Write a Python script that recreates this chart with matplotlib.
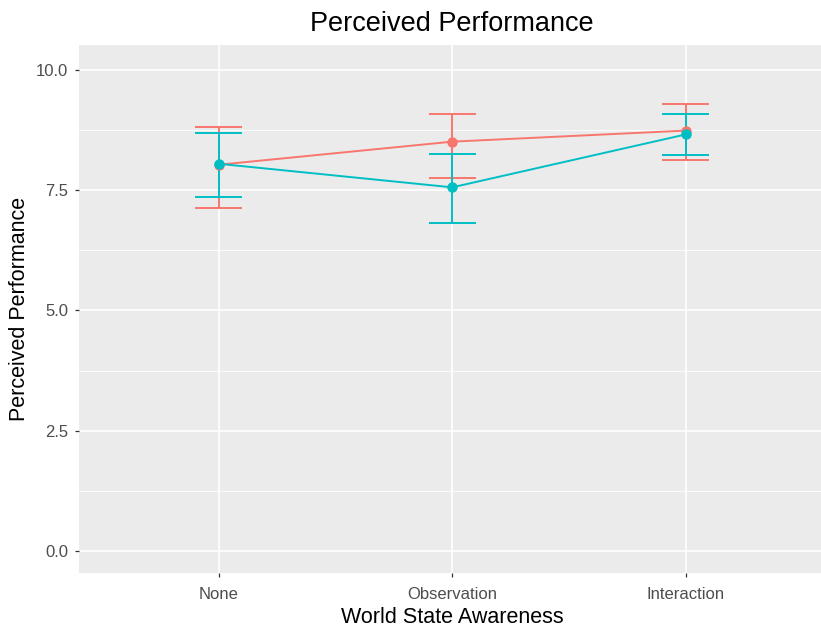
import matplotlib
matplotlib.use("Agg")
import matplotlib.pyplot as plt
from matplotlib.ticker import MultipleLocator

plt.rcParams['font.family'] = ['Liberation Sans', 'DejaVu Sans']

categories = ["None", "Observation", "Interaction"]
red_mean = [8.03, 8.51, 8.74]
red_low = [7.12, 7.76, 8.12]
red_high = [8.81, 9.09, 9.30]
teal_mean = [8.05, 7.56, 8.66]
teal_low = [7.36, 6.81, 8.23]
teal_high = [8.69, 8.26, 9.09]
yticks = [0.0, 2.5, 5.0, 7.5, 10.0]

RED = "#F8766D"
TEAL = "#00BFC4"

W, H = 821, 635
fig = plt.figure(figsize=(W / 100, H / 100), dpi=100)
left, right, top, bottom = 78.7, 78.7 + 747, 45, 573
ax = fig.add_axes([left / W, 1 - bottom / H, (right - left) / W, (bottom - top) / H])
ax.set_facecolor("#EBEBEB")
for s in ax.spines.values():
    s.set_visible(False)

x = list(range(1, len(categories) + 1))

def draw(mean, low, high, color):
    ax.plot(x, mean, color=color, lw=1.4, zorder=3)
    ax.vlines(x, low, high, color=color, lw=1.4, zorder=3)
    ax.hlines(low, [xi - 0.1 for xi in x], [xi + 0.1 for xi in x], color=color, lw=1.4, zorder=3)
    ax.hlines(high, [xi - 0.1 for xi in x], [xi + 0.1 for xi in x], color=color, lw=1.4, zorder=3)
    ax.plot(x, mean, 'o', color=color, ms=6.5, zorder=4)

draw(red_mean, red_low, red_high, RED)
draw(teal_mean, teal_low, teal_high, TEAL)

ax.set_xlim(0.4, 3.6)
ax.set_ylim(-0.46, 10.52)
ax.set_xticks(x)
ax.set_xticklabels(categories)
ax.set_yticks(yticks)
ax.set_yticklabels([f"{v:.1f}" for v in yticks])
ax.yaxis.set_minor_locator(MultipleLocator(1.25))
ax.grid(True, which='major', color='white', lw=1.2, zorder=0)
ax.grid(True, which='minor', axis='y', color='white', lw=0.6, zorder=0)
ax.set_axisbelow(True)
ax.tick_params(axis='both', which='major', colors='#333333', length=3, width=0.9,
               labelsize=12, labelcolor='#4D4D4D')
ax.tick_params(axis='x', pad=7)
ax.tick_params(axis='y', pad=4.5)
ax.tick_params(axis='y', which='minor', length=0)

ax.set_xlabel("World State Awareness", fontsize=15.5, color='black', labelpad=4)
ax.set_ylabel("Perceived Performance", fontsize=15.5, color='black', labelpad=4)
ax.set_title("Perceived Performance", fontsize=19.5, color='black', pad=10)

fig.savefig("out.png", dpi=100)
